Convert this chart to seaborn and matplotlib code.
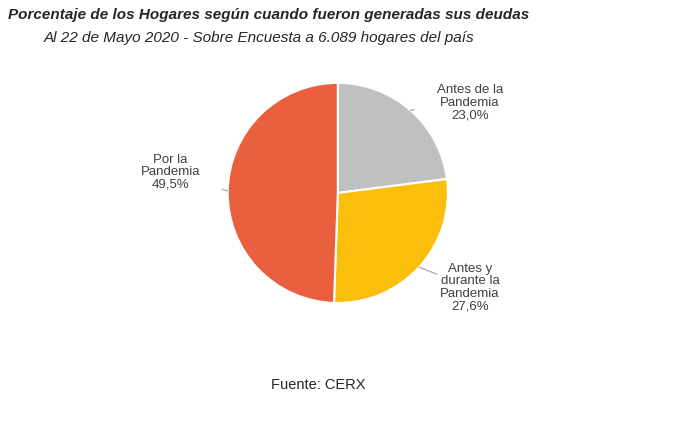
import matplotlib
matplotlib.use("Agg")
import matplotlib.pyplot as plt
import seaborn as sns
import numpy as np

sns.set_theme(style="white", font="Liberation Sans")

# data
labels = ["Antes de la\nPandemia", "Antes y\ndurante la\nPandemia", "Por la\nPandemia"]
values = [23.0, 27.6, 49.5]
colors = ["#C0C0C0", "#FBBE0A", "#EA603E"]
# label positions (pie units) and alignment
label_pos = [(1.2, 0.82), (1.2, -0.86), (-1.52, 0.19)]

fig = plt.figure(figsize=(6.88, 4.25), dpi=100)
fig.text(0.012, 0.965, "Porcentaje de los Hogares según cuando fueron generadas sus deudas",
         fontsize=11, fontweight="bold", fontstyle="italic", va="center")
fig.text(0.064, 0.91, "Al 22 de Mayo 2020 - Sobre Encuesta a 6.089 hogares del país",
         fontsize=11, fontstyle="italic", va="center")
fig.text(0.462, 0.094, "Fuente: CERX", fontsize=10.5, ha="center", va="center")

ax = fig.add_axes([0.331, 0.287, 0.32, 0.518])
wedges, _ = ax.pie(values, colors=colors, startangle=90, counterclock=False,
                   wedgeprops=dict(edgecolor="white", linewidth=1.5))
ax.set_xlim(-1, 1)
ax.set_ylim(-1, 1)
ax.set_aspect("equal")

for w, lab, v, (lx, ly) in zip(wedges, labels, values, label_pos):
    ang = np.deg2rad((w.theta1 + w.theta2) / 2)
    ex, ey = np.cos(ang), np.sin(ang)
    txt = lab + "\n" + f"{v:.1f}".replace(".", ",") + "%"
    ax.annotate(txt, xy=(ex, ey), xytext=(lx, ly), ha="center", va="center",
                fontsize=9.5, color="#404040", linespacing=1.05,
                arrowprops=dict(arrowstyle="-", color="#A0A0A0", lw=0.8,
                                shrinkA=14, shrinkB=0),
                annotation_clip=False)

fig.savefig("out.png", dpi=100)
